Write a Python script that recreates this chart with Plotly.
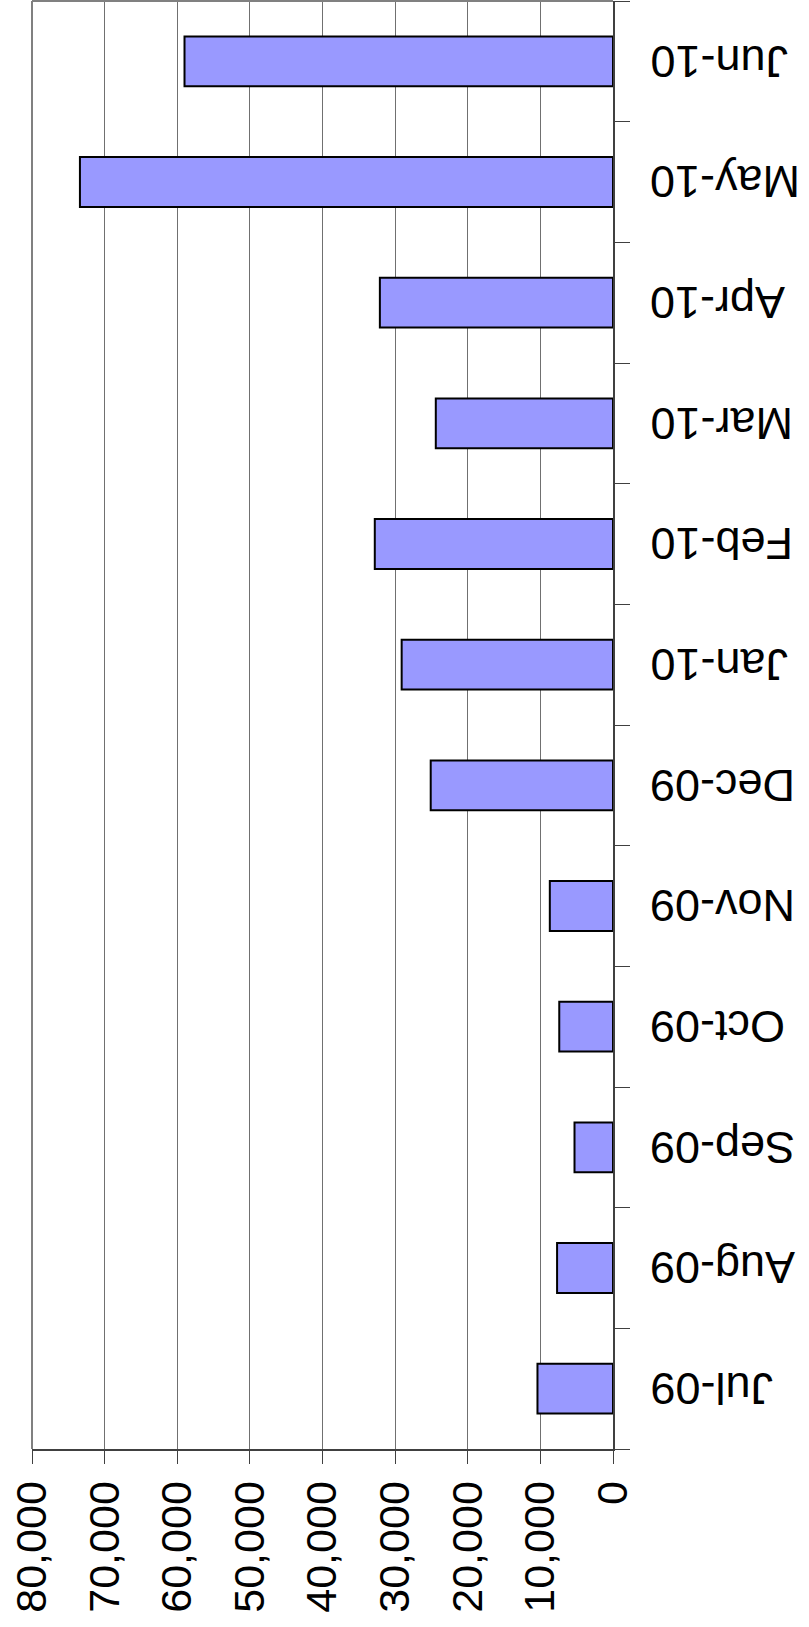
import plotly.graph_objects as go

categories = ["Jul-09", "Aug-09", "Sep-09", "Oct-09", "Nov-09", "Dec-09",
              "Jan-10", "Feb-10", "Mar-10", "Apr-10", "May-10", "Jun-10"]
values = [10400, 7700, 5300, 7400, 8700, 25100,
          29100, 32800, 24400, 32100, 73400, 59000]
x_ticks = [0, 10000, 20000, 30000, 40000, 50000, 60000, 70000, 80000]

FONT = "Liberation Sans, Arial, sans-serif"

fig = go.Figure()
fig.add_trace(go.Bar(
    x=values, y=categories, orientation="h",
    marker=dict(color="#9999FF", line=dict(color="#000000", width=2)),
    showlegend=False, hoverinfo="x+y",
))

fig.update_layout(
    template="none",
    width=809, height=1627,
    margin=dict(l=32, r=196, t=1, b=178, autoexpand=False),
    paper_bgcolor="white", plot_bgcolor="white",
    bargap=0.587,
    font=dict(family=FONT, size=43, color="black"),
    xaxis=dict(
        range=[80000, 0], tickvals=x_ticks, tickformat=",",
        tickangle=-90, showgrid=True, gridcolor="#707070", gridwidth=1,
        zeroline=False, showline=True, linecolor="#404040", linewidth=2,
        ticks="outside", ticklen=13, tickcolor="#404040", tickwidth=1,
        tickfont=dict(family=FONT, size=43, color="black"),
        mirror=False, automargin=False,
    ),
    yaxis=dict(
        type="category", categoryorder="array", categoryarray=categories,
        range=[-0.5, 11.5], side="right", showticklabels=False,
        ticks="outside", tickson="boundaries", ticklen=15,
        tickcolor="#404040", tickwidth=1, showgrid=False, zeroline=False,
        showline=True, linecolor="#404040", linewidth=2, automargin=False,
    ),
)

# plot-area border (top and left)
fig.add_shape(type="line", xref="paper", yref="paper", x0=0, x1=1, y0=1, y1=1,
              line=dict(color="#808080", width=2))
fig.add_shape(type="line", xref="paper", yref="paper", x0=0, x1=0, y0=0, y1=1,
              line=dict(color="#808080", width=2))

for c in categories:
    fig.add_annotation(
        x=1, xref="paper", y=c, yref="y", text=c, showarrow=False,
        xanchor="left", yanchor="middle", xshift=35, textangle=180,
        font=dict(family=FONT, size=45, color="black"),
    )

fig.write_html("out.html",
               config={"displayModeBar": False},
               post_script="document.body.style.margin='0';document.body.style.padding='0';")
